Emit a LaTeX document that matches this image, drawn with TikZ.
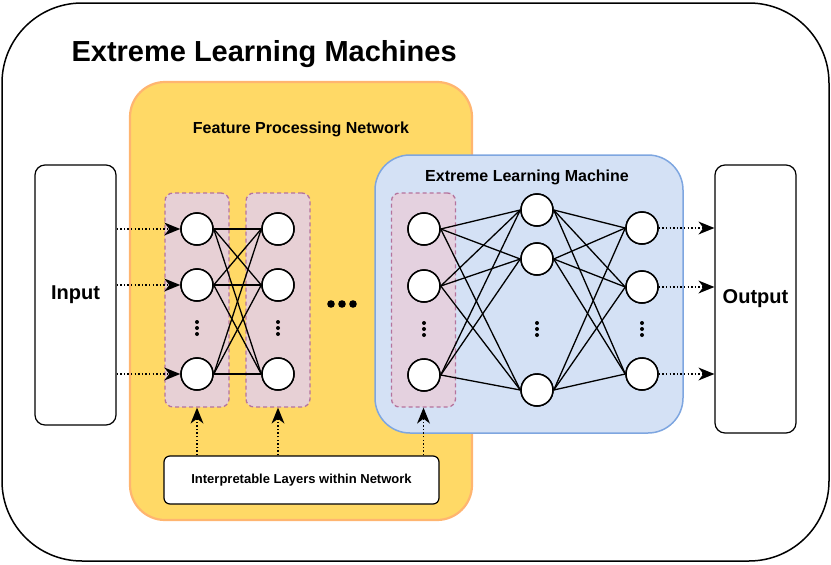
\documentclass[tikz,border=0pt]{standalone}
\usepackage{fontspec}
\setmainfont{Liberation Sans}
\usepackage{tikz}
\usetikzlibrary{arrows.meta,positioning,calc}
\definecolor{ymfill}{HTML}{FFD966}
\definecolor{ymdraw}{HTML}{FFB570}
\definecolor{elmfill}{HTML}{D4E1F5}
\definecolor{elmdraw}{HTML}{7EA6E0}
\definecolor{layfill}{HTML}{E6D0DE}
\definecolor{laydraw}{HTML}{B5739D}
% three small dots standing for the hidden neurons
\newcommand{\neurondots}[1]{\foreach \dy in {-6,0,6} \fill ($(#1)+(0,\dy)$) circle (2);}

\begin{document}
\begin{tikzpicture}[
  x=1pt, y=-1pt,
  font=\bfseries,
  frame/.style={
    draw,
    rounded corners=#1,
    inner sep=0pt,
    line width=1.2pt
  },
  layer/.style={
    draw=laydraw,
    fill=layfill,
    fill opacity=0.93,
    dash pattern=on 4pt off 3pt,
    rounded corners=8pt,
    line width=1.3pt,
    minimum width=64pt,
    minimum height=214pt,
    inner sep=0pt
  },
  neuron/.style={
    circle,
    draw,
    fill=white,
    line width=1.5pt,
    minimum size=32pt,
    inner sep=0pt
  },
  link/.style={line width=1.3pt},
  feed/.style={-{Stealth[length=16pt,width=13pt,inset=5pt,line width=0pt]}, dash pattern=on 1.4pt off 2.2pt, line width=1.4pt}
]
  \useasboundingbox (0,0) rectangle (831,565);

  % Outer frame and title
  \node[frame=80pt, line width=1.5pt, minimum width=827pt, minimum height=558pt] (all) at (415.5,282) {};
  \node[anchor=west, font=\bfseries\fontsize{29}{32}\selectfont] (title) at (68,54) {Extreme Learning Machines};

  % Feature processing network (yellow)
  \node[frame=35pt, draw=ymdraw, fill=ymfill, line width=2.2pt, minimum width=342pt, minimum height=438pt] (fpn) at (301,301) {};
  \node[font=\bfseries\fontsize{16}{18}\selectfont] (fpnlabel) at (301,129) {Feature Processing Network};

  % Extreme learning machine (blue)
  \node[frame=35pt, draw=elmdraw, fill=elmfill, line width=1.5pt, minimum width=308pt, minimum height=278pt] (elm) at (529,294) {};
  \node[font=\bfseries\fontsize{16}{18}\selectfont] (elmlabel) at (527,177) {Extreme Learning Machine};

  % Input / Output
  \node[frame=10pt, fill=white, minimum width=81pt, minimum height=260pt, font=\bfseries\fontsize{20}{22}\selectfont] (in) at (75.5,295) {Input};
  \node[frame=10pt, fill=white, minimum width=81pt, minimum height=268pt, font=\bfseries\fontsize{20}{22}\selectfont] (out) at (755.5,299) {Output};

  % Interpretable layers
  \node[layer] (lay1) at (197,300) {};
  \node[layer] (lay2) at (278,300) {};
  \node[layer] (lay3) at (423.5,300) {};

  % Neurons
  \node[neuron] (a1) at (197,229) {};
  \node[neuron] (a2) at (197,285) {};
  \node[neuron] (a3) at (197,374) {};
  \node[neuron] (b1) at (278,229) {};
  \node[neuron] (b2) at (278,285) {};
  \node[neuron] (b3) at (278,374) {};

  \node[neuron] (e1) at (424,229) {};
  \node[neuron] (e2) at (424,286) {};
  \node[neuron] (e3) at (424,375) {};
  \node[neuron] (h1) at (537,210) {};
  \node[neuron] (h2) at (537,259) {};
  \node[neuron] (h3) at (537,390) {};
  \node[neuron] (o1) at (642,228) {};
  \node[neuron] (o2) at (642,287) {};
  \node[neuron] (o3) at (642,374) {};

  % Fully connected links
  \foreach \s in {a1,a2,a3} \foreach \t in {b1,b2,b3} \draw[link] (\s.east) -- (\t.west);
  \foreach \s in {e1,e2,e3} \foreach \t in {h1,h2,h3} \draw[link] (\s.east) -- (\t.west);
  \foreach \s in {h1,h2,h3} \foreach \t in {o1,o2,o3} \draw[link] (\s.east) -- (\t.west);

  % Redraw neurons above the links
  \foreach \n in {a1,a2,a3,b1,b2,b3,e1,e2,e3,h1,h2,h3,o1,o2,o3}
    \draw[line width=1.5pt, fill=white] (\n) circle (16);

  % Vertical dots
  \neurondots{197,328}
  \neurondots{278,328}
  \neurondots{424,329}
  \neurondots{537,329}
  \neurondots{642,329}

  % Dots between the networks
  \foreach \dx in {331,342,353} \fill (\dx,304) circle (3.8);

  % Input and output flow
  \draw[feed] (in.east |- a1) -- (a1.west);
  \draw[feed] (in.east |- a2) -- (a2.west);
  \draw[feed] (in.east |- a3) -- (a3.west);
  \draw[feed] (o1.east) -- (out.west |- o1);
  \draw[feed] (o2.east) -- (out.west |- o2);
  \draw[feed] (o3.east) -- (out.west |- o3);

  % Note on the interpretable layers
  \node[frame=6pt, fill=white, minimum width=275pt, minimum height=48pt, font=\bfseries\fontsize{13}{15}\selectfont] (note) at (301.5,480) {Interpretable Layers within Network};
  \draw[feed] (note.north -| lay1) -- (lay1.south);
  \draw[feed] (note.north -| lay2) -- (lay2.south);
  \draw[feed] (note.north -| lay3) -- (lay3.south);

\end{tikzpicture}
\end{document}
